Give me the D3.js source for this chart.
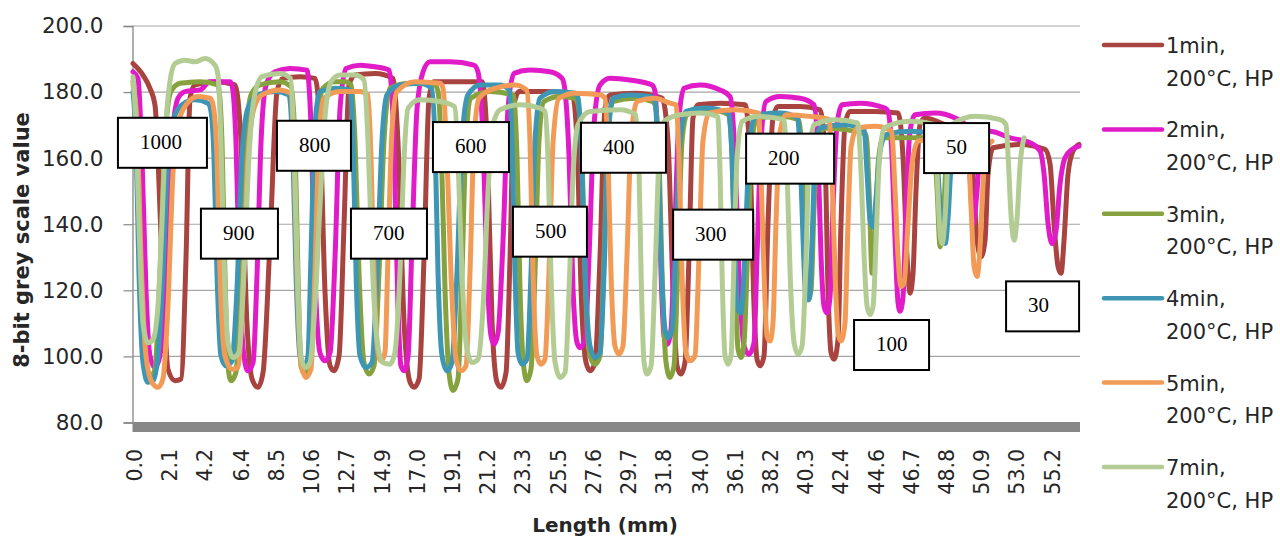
<!DOCTYPE html>
<html>
<head>
<meta charset="utf-8">
<script src="https://cdn.jsdelivr.net/npm/d3@7"></script>
<style>
  body { margin: 0; background: #fff; }
  svg { display: block; }
  .tick-label { font-family: 'DejaVu Sans', sans-serif; fill: #262626; }
  .axis-title { font-family: 'DejaVu Sans', sans-serif; font-weight: bold; fill: #262626; }
  .note-text { font-family: 'Liberation Serif', 'Times New Roman', serif; fill: #000; }
</style>
</head>
<body>
<script>
var w = 1280;
var h = 538;

// y ticks and x category labels (mm)
var yTicks = [80, 100, 120, 140, 160, 180, 200];
var xLabels = ['0.0','2.1','4.2','6.4','8.5','10.6','12.7','14.9','17.0','19.1','21.2','23.3','25.5','27.6',
  '29.7','31.8','34.0','36.1','38.2','40.3','42.4','44.6','46.7','48.8','50.9','53.0','55.2'];

var seriesNames = ['1min, 200°C, HP', '2min, 200°C, HP', '3min, 200°C, HP',
  '4min, 200°C, HP', '5min, 200°C, HP', '7min, 200°C, HP'];
var seriesColors = ['#A8433F', '#E11BC8', '#86A23F', '#3D97B4', '#F29B57', '#B3CC93'];

// [length mm, grey value]
var min1 = [[-0.12,188.5],[0.48,185],[0.90,181],[1.20,176],[1.62,130],[1.98,96],[2.41,92.5],[2.77,93],[3.07,130],[3.31,178],[3.61,182],[4.81,183],[6.01,182],[6.37,165],[6.73,110],[7.04,93],[7.40,90.5],[7.70,95],[8.12,135],[8.54,180],[8.90,184],[9.92,184.5],[10.82,184],[11.12,170],[11.42,120],[11.73,97],[11.97,95.5],[12.27,100],[12.57,140],[12.87,182],[13.23,185],[14.43,185.5],[15.51,184],[15.81,165],[16.18,110],[16.54,92],[16.78,90.5],[17.08,93],[17.38,130],[17.68,178],[17.98,183],[19.42,183],[20.87,183],[21.17,165],[21.47,110],[21.77,92],[22.01,90.5],[22.31,95],[22.55,130],[22.79,176],[23.09,180],[24.65,180],[26.28,179.5],[26.58,165],[26.82,120],[27.12,98],[27.36,95.5],[27.66,98],[27.96,130],[28.26,175],[28.56,179],[30.07,179.5],[31.69,178],[32.05,165],[32.35,120],[32.59,97],[32.83,94.5],[33.07,98],[33.31,130],[33.55,172],[33.85,176],[35.18,176.5],[36.68,176],[36.98,160],[37.22,115],[37.40,99],[37.58,97],[37.82,100],[38.06,140],[38.36,172],[38.66,175.5],[39.99,175.5],[41.19,174.5],[41.49,160],[41.67,120],[41.85,101],[42.03,99],[42.27,105],[42.45,140],[42.69,170],[42.99,174],[44.50,174],[45.88,173.5],[46.18,160],[46.42,130],[46.60,119],[46.78,125],[46.96,150],[47.20,170],[47.50,172],[48.71,170],[50.09,168],[50.39,155],[50.63,135],[50.87,130],[51.11,135],[51.29,155],[51.59,163],[53.22,164],[54.72,162.5],[55.02,158],[55.26,140],[55.50,127],[55.68,125],[55.86,135],[56.10,155],[56.40,162],[56.76,164]];

var min2 = [[-0.12,186],[0.18,184],[0.42,160],[0.66,120],[0.90,100],[1.20,96.5],[1.50,100],[1.86,125],[2.22,165],[2.59,178],[3.01,180],[3.91,180.5],[4.51,183],[5.71,183],[5.83,182],[6.07,165],[6.31,120],[6.55,100],[6.79,95.5],[7.10,98],[7.34,125],[7.58,165],[7.88,182],[8.42,186],[9.32,187],[10.34,186.5],[10.58,170],[10.82,125],[11.12,101],[11.42,98.5],[11.73,101],[12.03,130],[12.33,175],[12.69,187],[13.53,188],[14.43,187.5],[15.27,186.5],[15.57,165],[15.81,115],[15.99,97],[16.18,95.5],[16.42,100],[16.66,135],[16.96,175],[17.32,186],[17.74,189],[18.94,189],[20.38,188],[20.62,186],[20.93,165],[21.17,125],[21.41,106],[21.59,103.5],[21.83,107],[22.13,135],[22.43,175],[22.79,185.5],[23.75,186.5],[24.95,186],[25.68,184],[25.86,180],[26.10,160],[26.34,120],[26.58,104],[26.76,102.5],[27.06,105],[27.30,130],[27.60,170],[27.96,182],[28.56,184],[29.76,183.5],[31.09,182],[31.27,180],[31.45,160],[31.63,125],[31.81,106],[31.99,103.5],[32.23,108],[32.47,140],[32.71,172],[33.01,181],[33.97,182],[35.18,180.5],[35.78,178.5],[36.08,160],[36.32,125],[36.62,103],[36.92,100.5],[37.22,104],[37.40,130],[37.64,165],[37.94,177],[38.79,178.5],[39.99,178],[40.83,176],[41.07,160],[41.25,130],[41.43,115],[41.61,113],[41.79,118],[41.97,145],[42.21,170],[42.51,176],[43.60,176.5],[45.10,175],[45.28,174],[45.52,160],[45.70,135],[45.88,116],[46.00,113.5],[46.18,118],[46.36,145],[46.60,168],[46.90,173],[48.11,173.5],[49.31,172],[49.91,170],[50.15,160],[50.39,140],[50.63,150],[50.87,166],[51.41,168],[52.62,166],[53.82,164.5],[54.42,162],[54.66,155],[54.90,140],[55.14,134],[55.38,138],[55.62,152],[55.92,160],[56.34,162.5],[56.76,163.5]];

var min3 = [[-0.12,183],[0.12,170],[0.36,125],[0.60,98],[0.90,93.5],[1.20,96],[1.50,125],[1.80,165],[2.16,180],[2.71,182.5],[3.91,183],[4.99,182],[5.23,165],[5.41,125],[5.59,97],[5.77,92.5],[6.07,95],[6.37,125],[6.67,165],[6.98,179],[7.52,182],[8.72,183],[9.38,181.5],[9.62,165],[9.80,125],[9.98,97],[10.22,94.5],[10.46,97],[10.70,130],[11.00,170],[11.30,181],[12.03,183],[12.63,183],[12.99,182],[13.23,165],[13.47,125],[13.77,98],[14.07,94.5],[14.37,97],[14.67,125],[14.97,165],[15.33,181],[16.54,182.5],[18.04,182],[18.22,180],[18.40,165],[18.64,120],[18.88,95],[19.12,89.5],[19.42,93],[19.66,125],[19.90,165],[20.20,178],[21.35,180],[22.73,179],[22.97,160],[23.15,120],[23.39,96],[23.57,92.5],[23.81,96],[24.05,125],[24.29,165],[24.59,177],[25.56,178.5],[26.46,178],[26.64,176],[26.88,160],[27.06,125],[27.36,100],[27.66,97.5],[27.96,100],[28.20,130],[28.44,168],[28.74,177],[30.07,178],[31.09,177],[31.27,176],[31.51,160],[31.69,125],[31.93,98],[32.17,93.5],[32.41,97],[32.65,130],[32.89,165],[33.19,173],[34.58,174.5],[35.69,173],[35.90,160],[36.08,125],[36.26,102],[36.44,99.5],[36.62,104],[36.86,135],[37.10,165],[37.40,172],[38.79,172.5],[39.90,171.5],[40.11,160],[40.29,135],[40.47,117],[40.65,120],[40.83,145],[41.07,165],[41.43,169],[42.69,168.5],[43.96,167],[44.14,150],[44.32,125],[44.50,135],[44.68,158],[44.98,166],[46.60,166],[47.93,166],[48.05,164],[48.23,150],[48.41,133],[48.59,140],[48.77,158],[49.01,165],[49.49,166]];

var min4 = [[-0.12,180],[0.06,165],[0.24,125],[0.48,98],[0.78,92],[1.08,92.5],[1.38,100],[1.68,125],[1.98,160],[2.35,172],[2.83,176],[3.61,177.5],[4.39,176.5],[4.57,174],[4.75,160],[4.93,125],[5.17,100],[5.47,97],[5.83,98.5],[6.13,120],[6.43,160],[6.79,175],[7.40,179],[8.42,180],[9.26,179],[9.50,160],[9.68,125],[9.92,100],[10.16,96.5],[10.40,100],[10.58,130],[10.82,170],[11.12,180],[12.03,181],[12.93,180.5],[13.11,165],[13.29,125],[13.53,100],[13.89,96.5],[14.25,98],[14.55,125],[14.85,165],[15.15,179],[15.93,182],[17.14,182.5],[17.83,181],[18.04,165],[18.22,125],[18.46,100],[18.76,95.5],[19.06,98],[19.36,125],[19.66,165],[20.02,179],[20.75,182],[21.95,182],[22.49,180.5],[22.67,165],[22.85,125],[23.03,101],[23.27,97.5],[23.57,99],[23.81,125],[24.05,165],[24.35,178],[25.26,180],[26.46,179.5],[26.64,178],[26.82,165],[27.06,125],[27.36,103],[27.66,99.5],[27.96,101],[28.20,125],[28.44,165],[28.74,178],[29.76,179],[30.97,178.5],[31.27,177],[31.45,160],[31.63,130],[31.87,108],[32.05,105.5],[32.29,108],[32.53,135],[32.77,165],[33.13,174],[34.28,175],[35.69,173.5],[35.90,160],[36.08,130],[36.26,114],[36.44,113],[36.62,125],[36.86,155],[37.10,170],[37.46,173],[38.79,173.5],[39.84,172],[40.00,160],[40.17,135],[40.35,117],[40.53,117],[40.71,135],[40.89,160],[41.19,169],[42.69,170],[43.84,168.5],[44.02,155],[44.20,141],[44.38,139],[44.56,148],[44.80,162],[45.16,167],[46.60,168],[48.11,167],[48.35,150],[48.53,136],[48.71,134],[48.89,142],[49.07,158],[49.31,165],[49.61,166]];

var min5 = [[-0.12,182],[0.12,170],[0.36,130],[0.66,100],[1.02,92],[1.38,90.5],[1.68,93],[1.98,115],[2.28,155],[2.59,170],[3.07,176],[3.79,178.5],[4.51,178],[4.69,176],[4.93,160],[5.11,125],[5.41,100],[5.83,96],[6.19,96.5],[6.49,120],[6.79,160],[7.16,175],[7.64,179],[8.72,180.5],[9.35,179.5],[9.56,160],[9.74,125],[9.98,98],[10.28,93.5],[10.58,96],[10.82,125],[11.06,165],[11.36,178],[12.33,180],[13.53,180],[14.01,179],[14.19,160],[14.37,125],[14.61,101],[14.79,98.5],[15.03,101],[15.21,130],[15.45,168],[15.75,180],[16.84,183],[18.34,182.5],[18.52,181],[18.76,160],[19.00,125],[19.30,99],[19.60,95.5],[19.90,97],[20.14,125],[20.38,165],[20.69,178],[21.65,181],[22.85,182],[23.54,180.5],[23.75,165],[23.93,125],[24.17,100],[24.41,97.5],[24.65,99],[24.89,125],[25.14,165],[25.50,178],[26.46,179.5],[27.96,179],[28.26,178],[28.44,160],[28.62,125],[28.86,103],[29.10,100.5],[29.34,103],[29.58,130],[29.82,165],[30.19,177],[31.27,178],[32.17,176.5],[32.53,176],[32.71,160],[32.89,125],[33.13,101],[33.37,98.5],[33.67,100],[33.91,130],[34.15,165],[34.52,173.5],[36.08,174.5],[37.49,173.5],[37.64,155],[37.82,125],[38.00,106],[38.18,104.5],[38.36,110],[38.54,140],[38.79,168],[39.15,173],[40.59,172.5],[41.73,171.5],[41.91,155],[42.09,125],[42.27,107],[42.45,104.5],[42.69,110],[42.87,140],[43.05,163],[43.42,169],[44.50,169.5],[45.49,168],[45.70,150],[45.88,130],[46.06,121],[46.24,122],[46.48,140],[46.72,158],[47.08,165],[48.65,166],[50.06,164],[50.27,145],[50.45,127],[50.63,124],[50.81,133],[50.99,152],[51.23,163],[51.53,165]];

var min7 = [[-0.12,184.5],[0.06,170],[0.24,140],[0.48,110],[0.78,104],[1.08,105],[1.38,115],[1.62,140],[1.86,170],[2.10,183],[2.41,188.5],[3.01,189.5],[3.61,189],[4.21,190],[4.81,188],[4.99,185],[5.17,165],[5.35,130],[5.59,104],[5.89,99.5],[6.25,101],[6.55,125],[6.85,160],[7.16,178],[7.64,184.5],[8.72,185.5],[9.35,184],[9.56,165],[9.74,130],[9.98,100],[10.22,96.5],[10.52,98],[10.82,115],[11.12,145],[11.42,172],[11.79,183],[12.33,185],[13.23,185],[13.77,183.5],[14.01,165],[14.25,130],[14.55,105],[14.91,98],[15.33,97.5],[15.63,101],[15.93,125],[16.18,160],[16.42,175],[17.14,177.5],[18.34,177],[19.21,175.5],[19.42,160],[19.66,125],[19.96,102],[20.26,98],[20.63,99],[20.93,115],[21.23,150],[21.53,170],[21.95,174.5],[23.15,176],[24.35,175],[24.65,174],[24.83,160],[25.01,125],[25.26,98],[25.56,93.5],[25.86,95],[26.10,120],[26.34,155],[26.64,170],[27.36,174],[29.16,174.5],[30.10,173],[30.31,155],[30.43,125],[30.61,98],[30.79,94.5],[31.03,97],[31.27,125],[31.51,160],[31.81,171],[32.77,173],[33.97,173.5],[35.03,172.5],[35.18,155],[35.30,125],[35.48,100],[35.66,97.5],[35.84,100],[36.02,130],[36.20,160],[36.50,171],[37.58,172.5],[39.00,171.5],[39.21,155],[39.39,125],[39.63,104],[39.87,100.5],[40.11,103],[40.35,130],[40.53,160],[40.83,170],[42.09,171.5],[43.45,170.5],[43.66,155],[43.84,130],[44.02,115],[44.20,112.5],[44.38,115],[44.56,135],[44.74,158],[45.04,169],[46.60,171],[48.11,170],[48.23,155],[48.41,137],[48.53,134],[48.71,142],[48.89,160],[49.13,170],[50.51,172.5],[52.01,171.5],[52.37,170],[52.50,160],[52.68,142],[52.86,135],[53.04,142],[53.22,158],[53.46,166]];

var seriesData = [min1, min2, min3, min4, min5, min7];

// text boxes: label, centre length (mm), centre value, box width (px)
var notes = [['1000',1.65,164.5,89],['900',6.28,137.0,77],['800',10.76,163.6,74],['700',15.27,137.0,76],
  ['600',20.20,163.2,76],['500',24.95,137.6,74],['400',29.37,163.0,85],['300',34.76,136.7,80],
  ['200',39.39,159.7,88],['100',45.49,103.3,75],['50',49.40,162.9,65],['30',54.57,115.0,73]];

var plotLeft = 132.5, plotRight = 1080, plotTop = 25.5, plotBottom = 422;

var x = d3.scaleLinear().domain([-0.15, 56.82]).range([plotLeft, plotRight]);
var y = d3.scaleLinear().domain([80, 200]).range([plotBottom, plotTop]);

var svg = d3.select('body')
  .append('svg')
  .attr('width', w)
  .attr('height', h);

svg.append('rect')
  .attr('width', w)
  .attr('height', h)
  .attr('fill', '#fff');

// gridlines
svg.append('g')
  .selectAll('line')
  .data(yTicks.slice(1))
  .enter()
  .append('line')
  .attr('x1', plotLeft)
  .attr('x2', plotRight)
  .attr('y1', function(d) { return y(d) + 0.5; })
  .attr('y2', function(d) { return y(d) + 0.5; })
  .attr('stroke', '#a6a6a6')
  .attr('stroke-width', 1.2);

// y axis
var yAxis = svg.append('g')
  .attr('transform', 'translate(' + plotLeft + ',0.5)')
  .call(d3.axisLeft(y).tickValues(yTicks).tickSize(9).tickPadding(20)
    .tickFormat(function(d) { return d.toFixed(1); }));
yAxis.select('.domain').attr('stroke', '#868686').attr('stroke-width', 1.3);
yAxis.selectAll('.tick line').attr('stroke', '#868686').attr('stroke-width', 1.2);
yAxis.selectAll('.tick text')
  .attr('class', 'tick-label')
  .attr('font-size', 21.5)
  .attr('fill', '#262626');

// thick floor band under the plot
svg.append('rect')
  .attr('x', plotLeft)
  .attr('y', plotBottom)
  .attr('width', plotRight - plotLeft)
  .attr('height', 10)
  .attr('fill', '#878787');

// x labels
svg.append('g')
  .selectAll('text')
  .data(xLabels)
  .enter()
  .append('text')
  .attr('class', 'tick-label')
  .attr('font-size', 20.5)
  .attr('text-anchor', 'end')
  .attr('dy', '0.36em')
  .attr('transform', function(d) { return 'translate(' + x(parseFloat(d)) + ',449) rotate(-90)'; })
  .text(function(d) { return d; });

// series
var line = d3.line()
  .x(function(d) { return x(d[0]); })
  .y(function(d) { return y(d[1]); })
  .curve(d3.curveMonotoneX);

svg.append('g')
  .selectAll('path')
  .data(seriesData)
  .enter()
  .append('path')
  .attr('d', line)
  .attr('fill', 'none')
  .attr('stroke', function(d, i) { return seriesColors[i]; })
  .attr('stroke-width', 5)
  .attr('stroke-linejoin', 'round')
  .attr('stroke-linecap', 'round');

// labelled text boxes
var note = svg.append('g')
  .selectAll('g')
  .data(notes)
  .enter()
  .append('g')
  .attr('transform', function(d) { return 'translate(' + (x(d[1]) - d[3] / 2) + ',' + (y(d[2]) - 25) + ')'; });

note.append('rect')
  .attr('width', function(d) { return d[3]; })
  .attr('height', 50)
  .attr('fill', '#fff')
  .attr('stroke', '#000')
  .attr('stroke-width', 2);

note.append('text')
  .attr('class', 'note-text')
  .attr('x', 22)
  .attr('y', 31)
  .attr('font-size', 21)
  .text(function(d) { return d[0]; });

// axis titles
svg.append('text')
  .attr('class', 'axis-title')
  .attr('font-size', 21)
  .attr('text-anchor', 'middle')
  .attr('transform', 'translate(29,240) rotate(-90)')
  .text('8-bit grey scale value');

svg.append('text')
  .attr('class', 'axis-title')
  .attr('font-size', 20)
  .attr('text-anchor', 'middle')
  .attr('x', 605)
  .attr('y', 532)
  .text('Length (mm)');

// legend
var legend = svg.append('g')
  .selectAll('g')
  .data(seriesNames)
  .enter()
  .append('g')
  .attr('transform', function(d, i) { return 'translate(1104,' + (45 + i * 84.4) + ')'; });

legend.append('line')
  .attr('x1', 0)
  .attr('x2', 58)
  .attr('stroke', function(d, i) { return seriesColors[i]; })
  .attr('stroke-width', 4.5)
  .attr('stroke-linecap', 'round');

var legendText = legend.append('text')
  .attr('class', 'tick-label')
  .attr('font-size', 21)
  .attr('x', 62);

legendText.append('tspan')
  .attr('x', 62)
  .attr('y', 8)
  .text(function(d) { return d.slice(0, d.indexOf(' ')); });

legendText.append('tspan')
  .attr('x', 62)
  .attr('y', 40.5)
  .text(function(d) { return d.slice(d.indexOf(' ') + 1); });
</script>
</body>
</html>
